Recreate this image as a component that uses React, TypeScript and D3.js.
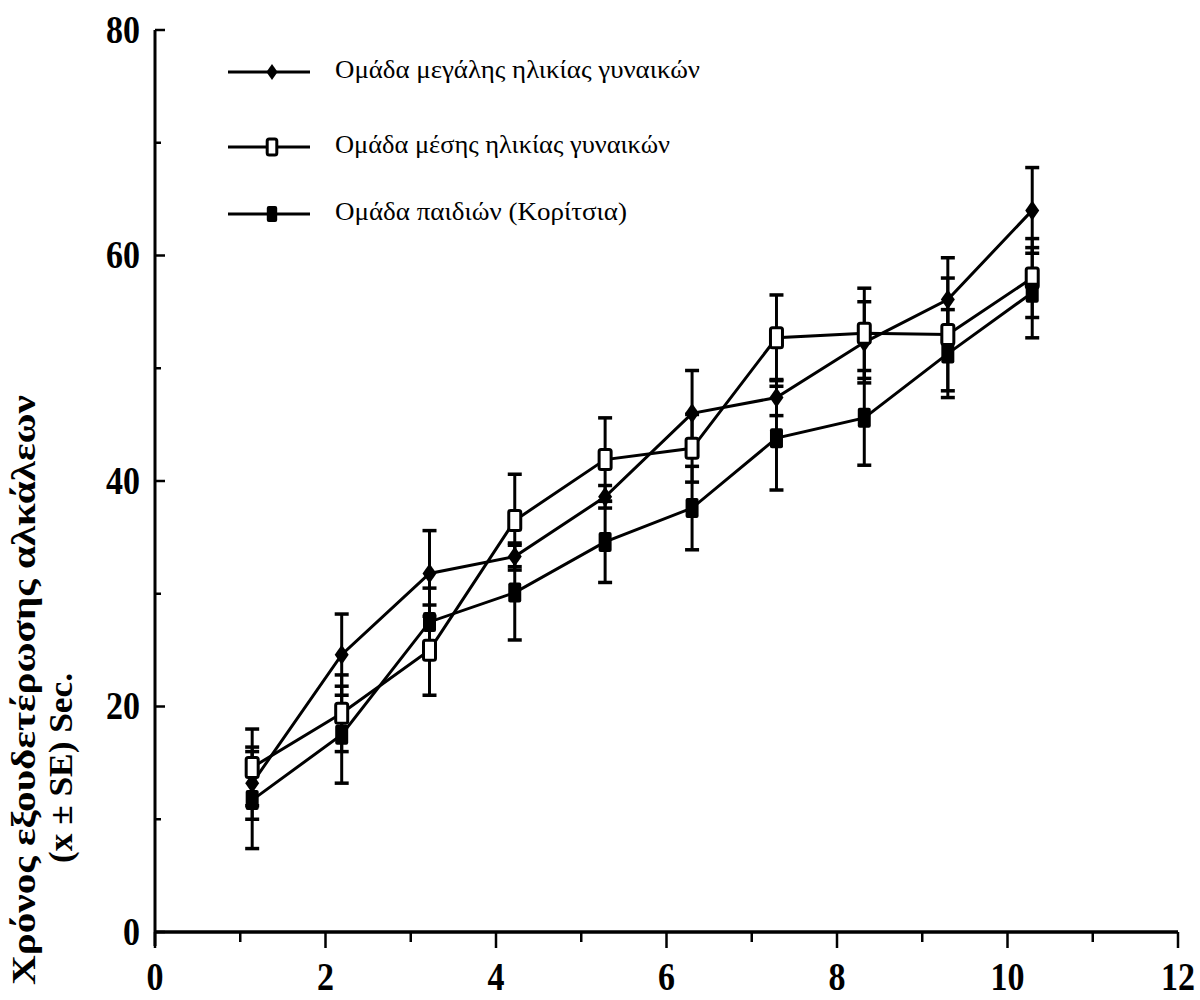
import React from "react";
import * as d3 from "d3";

const xTicks = [0, 2, 4, 6, 8, 10, 12];
const yTicks = [0, 20, 40, 60, 80];
const xPos = [1.14, 2.19, 3.22, 4.22, 5.28, 6.3, 7.29, 8.32, 9.3, 10.29];

const seriesNames = [
  "Ομάδα μεγάλης ηλικίας γυναικών",
  "Ομάδα μέσης ηλικίας γυναικών",
  "Ομάδα παιδιών (Κορίτσια)",
];
const olderMean = [13.2, 24.6, 31.8, 33.3, 38.6, 46.0, 47.4, 52.3, 56.1, 64.0];
const olderSE = [3.2, 3.6, 3.8, 1.2, 1.0, 3.8, 1.6, 3.6, 3.7, 3.8];
const middleMean = [14.6, 19.4, 25.0, 36.5, 41.9, 42.9, 52.7, 53.1, 53.0, 58.0];
const middleSE = [3.4, 3.4, 4.0, 4.1, 3.7, 3.0, 3.8, 4.0, 5.0, 3.5];
const childMean = [11.7, 17.5, 27.5, 30.1, 34.6, 37.6, 43.8, 45.6, 51.3, 56.7];
const childSE = [4.3, 4.3, 3.0, 4.2, 3.6, 3.7, 4.6, 4.2, 3.9, 4.0];

const yTitle1 = "Χρόνος εξουδετέρωσης αλκάλεων";
const yTitle2 = "(x ± SE) Sec.";

const W = 1200;
const H = 1000;

export default function App() {
  const x = d3.scaleLinear().domain([0, 12]).range([155, 1178]);
  const y = d3.scaleLinear().domain([0, 80]).range([932, 30]);
  const line = d3
    .line<[number, number]>()
    .x((d) => x(d[0]))
    .y((d) => y(d[1]));

  const series = [
    { name: seriesNames[0], mean: olderMean, se: olderSE, marker: "diamond", tl: 365 },
    { name: seriesNames[1], mean: middleMean, se: middleSE, marker: "open", tl: 335 },
    { name: seriesNames[2], mean: childMean, se: childSE, marker: "filled", tl: 292 },
  ];

  const marker = (type: string, cx: number, cy: number, key: string, s = 1) => {
    if (type === "diamond") {
      const p = `M${cx},${cy - 10 * s}L${cx + 7 * s},${cy}L${cx},${cy + 10 * s}L${cx - 7 * s},${cy}Z`;
      return <path key={key} d={p} fill="#000" />;
    }
    if (type === "open") {
      return (
        <rect key={key} x={cx - 6 * s} y={cy - 10 * s} width={12 * s} height={20 * s} rx={2}
          fill="#fff" stroke="#000" strokeWidth={3} />
      );
    }
    return <rect key={key} x={cx - 6.5 * s} y={cy - 10 * s} width={13 * s} height={20 * s} rx={2} fill="#000" />;
  };

  const minorX = d3.range(0, 13);
  const minorY = [10, 30, 50, 70];
  const tickFont = {
    fontFamily: "'Liberation Serif', 'Times New Roman', serif",
    fontWeight: 700,
    fontSize: 40,
  } as const;

  return (
    <svg width={W} height={H} style={{ display: "block", position: "absolute", left: 0, top: 0 }}>
      <rect width={W} height={H} fill="#fff" />
      {/* axes */}
      <line x1={x(0)} x2={x(0)} y1={y(0) + 14} y2={y(80)} stroke="#000" strokeWidth={3} />
      <line x1={x(0)} x2={x(12)} y1={y(0)} y2={y(0)} stroke="#000" strokeWidth={3.5} />
      {minorX.map((v) => (
        <line key={"xt" + v} x1={x(v)} x2={x(v)} y1={y(0)} y2={y(0) + (v % 2 === 0 ? 16 : 10)}
          stroke="#000" strokeWidth={2.5} />
      ))}
      {yTicks.map((v) => (
        <line key={"yt" + v} x1={x(0)} x2={x(0) + 10} y1={y(v)} y2={y(v)} stroke="#000" strokeWidth={2.5} />
      ))}
      {minorY.map((v) => (
        <line key={"ym" + v} x1={x(0)} x2={x(0) + 6} y1={y(v)} y2={y(v)} stroke="#000" strokeWidth={2.5} />
      ))}
      {xTicks.map((v) => (
        <text key={"xl" + v} x={x(v)} y={y(0) + 58} textAnchor="middle"
          transform={`translate(${x(v)},0) scale(0.85,1) translate(${-x(v)},0)`} {...tickFont}>
          {v}
        </text>
      ))}
      {yTicks.map((v) => (
        <text key={"yl" + v} x={140} y={y(v) + 13} textAnchor="end"
          transform={`translate(140,0) scale(0.85,1) translate(-140,0)`} {...tickFont}>
          {v}
        </text>
      ))}
      {/* y title */}
      <text transform={`translate(35,690) rotate(-90)`} textAnchor="middle"
        fontFamily="'Liberation Serif', serif" fontWeight={700} fontSize={34}
        textLength={590} lengthAdjust="spacingAndGlyphs">
        {yTitle1}
      </text>
      <text transform={`translate(72,768) rotate(-90)`} textAnchor="middle"
        fontFamily="'Liberation Serif', serif" fontWeight={700} fontSize={34}
        textLength={190} lengthAdjust="spacingAndGlyphs">
        {yTitle2}
      </text>
      {/* series lines */}
      {series.map((s, si) => (
        <path key={"l" + si} d={line(xPos.map((xv, i) => [xv, s.mean[i]]) as [number, number][]) || ""}
          fill="none" stroke="#000" strokeWidth={3} />
      ))}
      {/* error bars */}
      {series.map((s, si) =>
        xPos.map((xv, i) => {
          const cx = x(xv);
          const top = y(s.mean[i] + s.se[i]);
          const bot = y(s.mean[i] - s.se[i]);
          return (
            <g key={`e${si}-${i}`}>
              <line x1={cx} x2={cx} y1={top} y2={bot} stroke="#000" strokeWidth={3} />
              <line x1={cx - 7} x2={cx + 7} y1={top} y2={top} stroke="#000" strokeWidth={3.5} />
              <line x1={cx - 7} x2={cx + 7} y1={bot} y2={bot} stroke="#000" strokeWidth={3.5} />
            </g>
          );
        })
      )}
      {/* markers */}
      {series.map((s, si) => xPos.map((xv, i) => marker(s.marker, x(xv), y(s.mean[i]), `m${si}-${i}`)))}
      {/* legend */}
      {series.map((s, si) => {
        const ly = [72, 147, 214][si];
        return (
          <g key={"lg" + si}>
            <line x1={228} x2={310} y1={ly} y2={ly} stroke="#000" strokeWidth={3} />
            {marker(s.marker, 272, ly, "lgm" + si, 0.8)}
            <text x={335} y={ly + 6} fontFamily="'Liberation Serif', serif" fontSize={25}
              textLength={s.tl} lengthAdjust="spacingAndGlyphs">
              {s.name}
            </text>
          </g>
        );
      })}
    </svg>
  );
}
